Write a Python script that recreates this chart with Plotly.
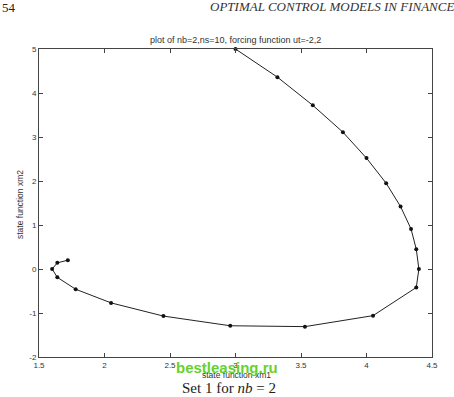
import plotly.graph_objects as go

xm1 = [3.00, 3.32, 3.59, 3.82, 4.00, 4.15, 4.26, 4.34, 4.38, 4.40, 4.38, 4.05, 3.53, 2.96, 2.45, 2.05, 1.78, 1.64, 1.60, 1.64, 1.72]
xm2 = [5.00, 4.36, 3.72, 3.11, 2.52, 1.95, 1.42, 0.91, 0.45, 0.00, -0.42, -1.06, -1.31, -1.29, -1.07, -0.77, -0.46, -0.19, 0.00, 0.14, 0.20]

x_ticks = [1.5, 2, 2.5, 3, 3.5, 4, 4.5]
x_ticklabels = ["1.5", "2", "2.5", "3", "3.5", "4", "4.5"]
y_ticks = [-2, -1, 0, 1, 2, 3, 4, 5]
y_ticklabels = ["-2", "-1", "0", "1", "2", "3", "4", "5"]

W, H = 454, 397
L, R, T, B = 39, 22, 49, 40
pw, ph = W - L - R, H - T - B

def px(x):
    return (x - L) / pw

def py(y):
    return (H - B - y) / ph

fig = go.Figure()
fig.add_trace(go.Scatter(
    x=xm1, y=xm2, mode="lines+markers",
    line=dict(color="#222", width=1),
    marker=dict(color="#111", size=4, symbol="circle"),
    showlegend=False, cliponaxis=False,
))

axis_common = dict(
    showgrid=False, zeroline=False, showline=True, linecolor="#444", linewidth=1,
    mirror="allticks", ticks="inside", ticklen=4, tickcolor="#444",
    tickfont=dict(family="Liberation Sans, Arial", size=8, color="#333"),
)
fig.update_xaxes(range=[1.5, 4.5], tickvals=x_ticks, ticktext=x_ticklabels, **axis_common)
fig.update_yaxes(range=[-2, 5], tickvals=y_ticks, ticktext=y_ticklabels, **axis_common)

small = dict(family="Liberation Sans, Arial", size=8.5, color="#333")
serif = "Liberation Serif, Times New Roman, serif"
annotations = [
    dict(text="plot of nb=2,ns=10, forcing function ut=-2,2", x=px(235), y=py(40),
         font=dict(family="Liberation Sans, Arial", size=9, color="#333"),
         xanchor="center", yanchor="middle"),
    dict(text="state function xm1", x=px(236), y=py(375), font=small, xanchor="center", yanchor="middle"),
    dict(text="state function xm2", x=px(20), y=py(205), font=small, xanchor="center", yanchor="middle",
         textangle=-90),
    dict(text="<b>bestleasing.ru</b>", x=px(227), y=py(367), xanchor="center", yanchor="middle",
         font=dict(family="Liberation Sans, Arial", size=15, color="#66d22e")),
    dict(text="Set 1 for <i>nb</i> = 2", x=px(229), y=py(388), xanchor="center", yanchor="middle",
         font=dict(family=serif, size=15, color="#222")),
    dict(text="54", x=px(0), y=py(8), xanchor="left", yanchor="middle",
         font=dict(family=serif, size=13, color="#222")),
    dict(text="<i>OPTIMAL CONTROL MODELS IN FINANCE</i>", x=px(208), y=py(7), xanchor="left", yanchor="middle",
         font=dict(family=serif, size=13, color="#333")),
]
for a in annotations:
    a.update(xref="paper", yref="paper", showarrow=False)

fig.update_layout(
    width=W, height=H, margin=dict(l=L, r=R, t=T, b=B),
    paper_bgcolor="white", plot_bgcolor="white",
    annotations=annotations,
)
fig.write_html("out.html")
